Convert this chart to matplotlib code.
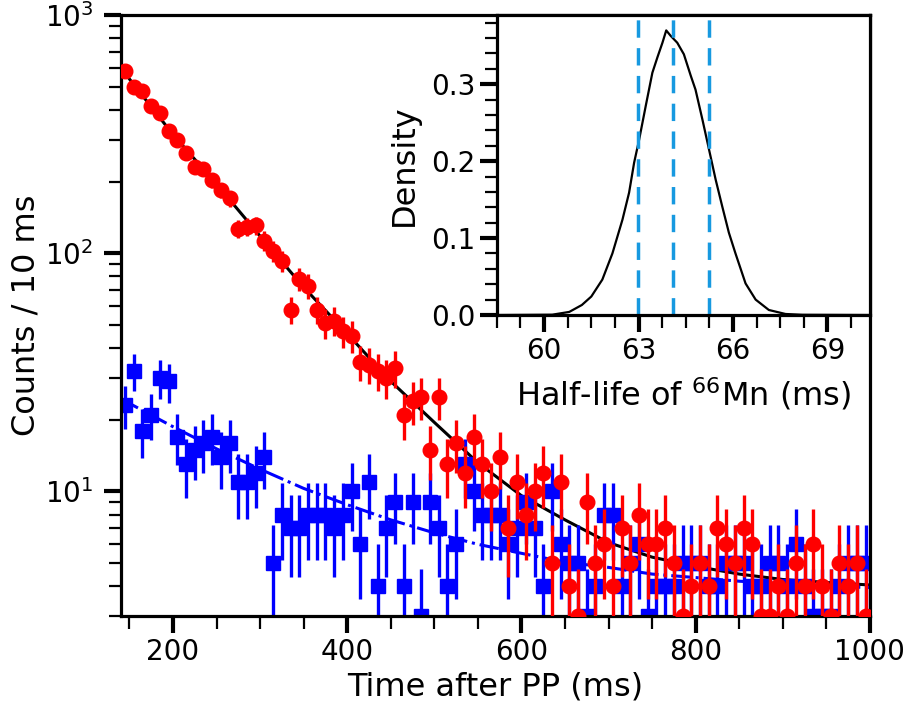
import numpy as np
import matplotlib.pyplot as plt
from matplotlib.ticker import MultipleLocator, LogLocator, NullFormatter

# time bins (ms), 10 ms wide
t_bins = np.arange(145, 1000, 10)

# counts per 10 ms
red_counts = [584, 500, 480, 416, 389, 326, 299, 264, 231, 225,
              203, 184, 170, 127, 129, 131, 113, 102, 93, 58,
              78, 73, 58, 51, 52, 47, 45, 35, 34, 32,
              30, 33, 21, 24, 25, 15, 25, 13, 16, 12,
              17, 13, 10, 14, 7, 11, 8, 10, 12, 5,
              11, 4, 3, 9, 5, 6, 4, 7, 5, 8,
              6, 6, 7, 5, 3, 4, 5, 4, 7, 6,
              5, 7, 6, 3, 3, 4, 3, 5, 4, 6,
              4, 3, 5, 4, 5, 3]
blue_counts = [23, 32, 18, 21, 30, 29, 17, 13, 15, 16,
               17, 14, 16, 11, 11, 12, 14, 5, 8, 7,
               7, 8, 8, 8, 7, 8, 10, 6, 11, 4,
               7, 9, 4, 9, 3, 9, 7, 4, 6, 13,
               10, 8, 8, 8, 6, 7, 9, 7, 4, 10,
               6, 5, 5, 3, 4, 8, 8, 4, 5, 6,
               3, 4, 4, 4, 5, 5, 5, 4, 4, 5,
               5, 5, 4, 4, 5, 5, 4, 6, 4, 3,
               3, 3, 4, 5, 5, 5]

# fitted curves
fit_t = [140, 200, 250, 300, 350, 400, 450, 500, 550, 600,
         650, 700, 750, 800, 850, 900, 950, 1000]
fit_red = [600, 315, 195, 118, 72, 46, 29, 19.5, 13.2, 9.6,
           7.6, 6.1, 5.3, 4.85, 4.5, 4.27, 4.15, 4.05]
fit_blue = [24.5, 18.7, 15.1, 12.4, 10.3, 8.8, 7.6, 6.7, 6.0, 5.5,
            5.05, 4.8, 4.5, 4.35, 4.2, 4.1, 4.0, 3.95]

# half-life posterior (inset)
hl = [58.5, 60.26, 60.8, 61.2, 61.5, 61.85, 62.17, 62.49, 62.7, 62.86,
      63.02, 63.23, 63.44, 63.6, 63.76, 63.88, 64.02, 64.23, 64.44, 64.66,
      64.81, 65.03, 65.24, 65.45, 65.66, 65.87, 66.08, 66.4, 66.72, 67.14,
      67.67, 68.2, 70.35]
density = [0.0, 0.0004, 0.004, 0.013, 0.024, 0.046, 0.080, 0.124, 0.159, 0.198,
           0.228, 0.272, 0.315, 0.335, 0.354, 0.370, 0.363, 0.354, 0.339, 0.311,
           0.293, 0.254, 0.215, 0.176, 0.141, 0.107, 0.080, 0.041, 0.020, 0.0065,
           0.0013, 0.0003, 0.0]
hl_lines = [62.97, 64.09, 65.24]

fig = plt.figure(figsize=(9.09, 7.12), dpi=100)
ax = fig.add_axes([0.1328, 0.1348, 0.8242, 0.8441])

ax.plot(fit_t, fit_red, color='black', lw=2.2, zorder=1)
ax.plot(fit_t, fit_blue, color='blue', lw=2.2, ls='-.', zorder=1)

ax.errorbar(t_bins, blue_counts, yerr=np.sqrt(blue_counts), fmt='s', color='blue',
            ms=10.5, elinewidth=2.4, capsize=0, zorder=2)
ax.errorbar(t_bins, red_counts, yerr=np.sqrt(red_counts), fmt='o', color='red',
            ms=10.5, elinewidth=2.4, capsize=0, zorder=3)

ax.set_yscale('log')
ax.set_xlim(140, 1000)
ax.set_ylim(3, 1000)
ax.xaxis.set_major_locator(MultipleLocator(200))
ax.xaxis.set_minor_locator(MultipleLocator(50))
ax.yaxis.set_major_locator(LogLocator(base=10))
ax.yaxis.set_minor_locator(LogLocator(base=10, subs=range(2, 10)))
ax.yaxis.set_minor_formatter(NullFormatter())
ax.set_xlabel('Time after PP (ms)', fontsize=23, labelpad=4)
ax.set_ylabel('Counts / 10 ms', fontsize=23, labelpad=2)

inset = fig.add_axes([0.5466, 0.5576, 0.4104, 0.4213])
inset.plot(hl, density, color='black', lw=1.6)
for v in hl_lines:
    inset.axvline(v, color='#1799e0', lw=2.5, ls=(0, (5, 3)))
inset.set_xlim(58.5, 70.35)
inset.set_ylim(0, 0.39)
inset.xaxis.set_major_locator(MultipleLocator(3))
inset.xaxis.set_minor_locator(MultipleLocator(0.75))
inset.yaxis.set_major_locator(MultipleLocator(0.1))
inset.yaxis.set_minor_locator(MultipleLocator(0.02))
inset.yaxis.set_major_formatter(plt.FormatStrFormatter('%.1f'))
inset.set_xlabel('Half-life of $^{66}$Mn (ms)', fontsize=23, labelpad=8)
inset.set_ylabel('Density', fontsize=23, labelpad=8)

for a in (ax, inset):
    for s in a.spines.values():
        s.set_linewidth(2.3)
    a.tick_params(which='major', direction='out', length=12, width=3, labelsize=20)
    a.tick_params(which='minor', direction='out', length=9, width=1.6)
    a.tick_params(which='both', top=False, right=False)
ax.tick_params(axis='y', which='major', pad=8)

fig.savefig('out.png', dpi=100)
